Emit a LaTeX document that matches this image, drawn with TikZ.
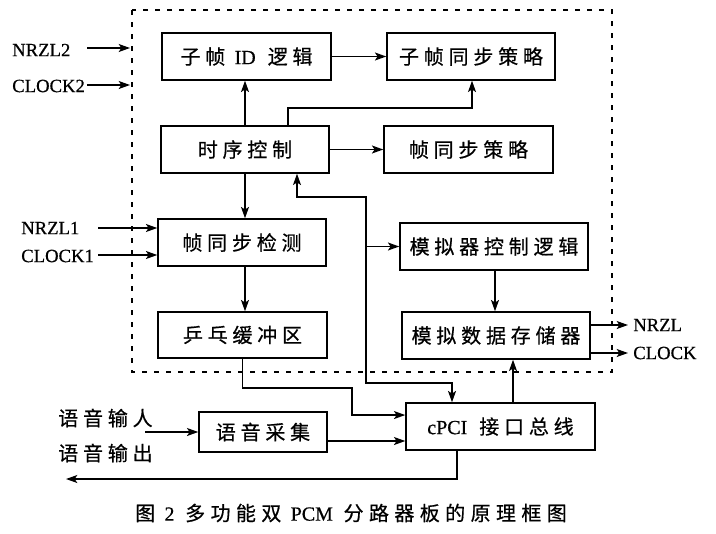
\documentclass[tikz,border=0pt]{standalone}
\usepackage{fontspec}
\setmainfont{Liberation Serif}
\newfontfamily\cjk[LetterSpace=24,FakeBold=0.6]{Noto Sans CJK SC}
\newfontfamily\cjkcap[LetterSpace=27,FakeBold=0.6]{Noto Sans CJK SC}
\newfontfamily\latb[FakeBold=0.6]{Liberation Serif}
\usetikzlibrary{arrows.meta}
\begin{document}
\begin{tikzpicture}[x=0.75pt,y=-0.75pt,
  blk/.style 2 args={draw, line width=1.1pt, inner sep=0pt,
    minimum width=#1*0.75pt, minimum height=#2*0.75pt,
    font=\fontsize{15}{17}\selectfont\latb},
  tip/.tip={Stealth[length=8.5pt,width=6pt,inset=2pt]},
  arr/.style={line width=1.1pt, -tip},
  arrboth/.style={line width=1.1pt, tip-tip},
  lbl/.style={font=\fontsize{14}{16}\selectfont\latb, inner sep=0pt, anchor=west},
  frame/.style={line width=1pt, dash pattern=on 4pt off 5pt}]
\useasboundingbox (0,0) rectangle (716,533);

% dashed frame
\draw[frame] (132,10) rectangle (612,372);

% blocks
\node[blk={169}{47}] (zid)   at (246.5,56.5) {{\cjk 子帧}\kern 7pt ID\kern 9pt{\cjk 逻辑}};
\node[blk={168}{47}] (zsync) at (471,56.5)   {\cjk 子帧同步策略};
\node[blk={168}{47}] (tc)    at (245,149.5)  {\cjk 时序控制};
\node[blk={169}{47}] (fsync) at (468.5,149.5){\cjk 帧同步策略};
\node[blk={168}{47}] (fdet)  at (242,242.5)  {\cjk 帧同步检测};
\node[blk={169}{46}] (pp)    at (242.5,335)  {\cjk 乒乓缓冲区};
\node[blk={188}{47}] (msc)   at (494,246.5)  {\cjk 模拟器控制逻辑};
\node[blk={188}{47}] (mds)   at (496,335.5)  {\cjk 模拟数据存储器};
\node[blk={128}{40}] (vc)    at (263,432)    {\cjk 语音采集};
\node[blk={189}{47}] (cpci)  at (500.5,426.5){cPCI\kern 9pt{\cjk 接口总线}};

% labels
\node[lbl] (nrzl2)  at (12,50)  {NRZL2};
\node[lbl] (clock2) at (12,86)  {CLOCK2};
\node[lbl] (nrzl1)  at (21,228) {NRZL1};
\node[lbl] (clock1) at (21,256) {CLOCK1};
\node[lbl] (nrzl)   at (633,325) {NRZL};
\node[lbl] (clock)  at (633,353) {CLOCK};
\node[lbl, font=\fontsize{15}{17}\selectfont\cjk] (vin)  at (58,418) {语音输人};
\node[lbl, font=\fontsize{15}{17}\selectfont\cjk] (vout) at (58,453) {语音输出};
\node[inner sep=0pt, font=\fontsize{15}{17}\selectfont\latb] (cap) at (351,513)
  {{\cjkcap 图}\kern 7pt 2\kern 8pt{\cjkcap 多功能双}\kern 7pt PCM\kern 8pt{\cjkcap 分路器板的原理框图}};

% coordinates
\coordinate (a2s) at (87,48);   \coordinate (a2e) at (130,48);
\coordinate (b2s) at (87,85);   \coordinate (b2e) at (130,85);
\coordinate (a1s) at (98,228);
\coordinate (b1s) at (98,255);
\coordinate (oa) at (628,325);
\coordinate (ob) at (628,353);
\coordinate (c1) at (288,108);
\coordinate (c1b) at (472,108);
\coordinate (p1) at (352,388);
\coordinate (bus1) at (297,197);
\coordinate (bus2) at (366,197);
\coordinate (bus3) at (366,383);
\coordinate (bus4) at (452,383);
\coordinate (vi) at (145,432);
\coordinate (up) at (513,0);
\coordinate (dn) at (457,0);
\coordinate (vo) at (66,479);

% inputs
\draw[arr] (a2s) -- (a2e);
\draw[arr] (b2s) -- (b2e);
\draw[arr] (a1s) -- (a1s -| fdet.west);
\draw[arr] (b1s) -- (b1s -| fdet.west);
% outputs
\draw[arr] (oa -| mds.east) -- (oa);
\draw[arr] (ob -| mds.east) -- (ob);

% internal
\draw[arr] (zid.east) -- (zsync.west);
\draw[arr] (tc.north) -- (tc.north |- zid.south);
\draw[arr] (c1 |- tc.north) -- (c1) -- (c1b) -- (c1b |- zsync.south);
\draw[arr] (tc.east) -- (fsync.west);
\draw[arr] (tc.south) -- (tc.south |- fdet.north);
\draw[arr] (tc.south |- fdet.south) -- (tc.south |- pp.north);
\draw[arr] (msc.south -| 495,0) -- (mds.north -| 495,0);
\draw[arrboth] (bus1 |- tc.south) -- (bus1) -- (bus2) -- (bus3) -- (bus4) -- (bus4 |- cpci.north);
\draw[arr] (bus2 |- msc.west) -- (msc.west);
\draw[arr] (pp.south) |- (p1) |- ([yshift=8.6pt]cpci.west);
\draw[arr] ([yshift=-6.75pt]vc.east) -- ([yshift=-6.75pt]vc.east -| cpci.west);
\draw[arr] (vi) -- (vc.west);
\draw[arr] (up |- cpci.north) -- (up |- mds.south);
\draw[arr] (dn |- cpci.south) |- (vo);
\end{tikzpicture}
\end{document}
